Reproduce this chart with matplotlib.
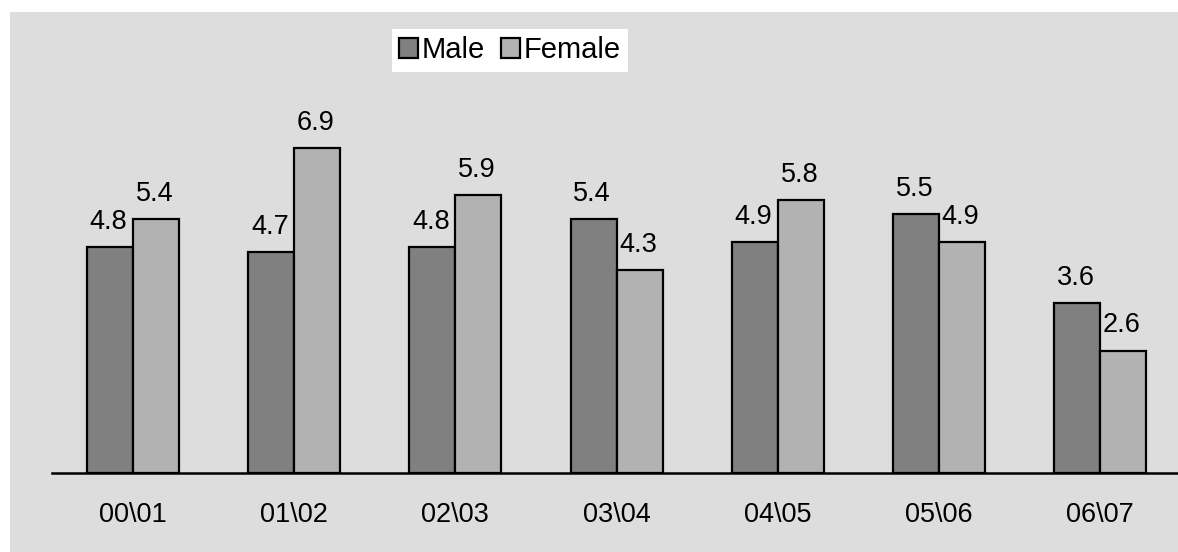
import numpy as np
import matplotlib
matplotlib.use("Agg")
import matplotlib.pyplot as plt
from matplotlib.patches import Rectangle

plt.rcParams['font.family'] = ['Liberation Sans', 'DejaVu Sans']

years = ["00\\01", "01\\02", "02\\03", "03\\04", "04\\05", "05\\06", "06\\07"]
male = [4.8, 4.7, 4.8, 5.4, 4.9, 5.5, 3.6]
female = [5.4, 6.9, 5.9, 4.3, 5.8, 4.9, 2.6]

W, H = 1178, 552
fig = plt.figure(figsize=(W / 100, H / 100), dpi=100)
fig.patch.set_facecolor("white")

# grey chart area
fig.patches.append(Rectangle((10 / W, 0), 1 - 10 / W, (H - 12) / H,
                             transform=fig.transFigure, facecolor="#dddddd",
                             edgecolor="none", zorder=-5))

base_y = 473
ax = fig.add_axes([52 / W, (H - base_y) / H, 1 - 52 / W, (base_y - 12) / H])
ax.set_facecolor("none")
ax.set_zorder(2)

x = np.arange(len(years))
w = 0.285
b1 = ax.bar(x - w / 2, male, w, color="#808080", edgecolor="black", linewidth=1.6, label="Male")
b2 = ax.bar(x + w / 2, female, w, color="#b2b2b2", edgecolor="black", linewidth=1.6, label="Female")

for bars, vals in ((b1, male), (b2, female)):
    for r, v in zip(bars, vals):
        ax.annotate(f"{v:.1f}", (r.get_x() + r.get_width() / 2, v),
                    xytext=(-1, 13), textcoords="offset points",
                    ha="center", va="baseline", fontsize=19.5)

ax.set_xlim(-0.5025, 6.483)
ax.set_ylim(0, (base_y - 12) / 47.1)
ax.set_xticks(x)
ax.set_xticklabels(years, fontsize=19.5)
ax.tick_params(axis="x", length=0, pad=21)
ax.set_yticks([])
for s in ("left", "right", "top"):
    ax.spines[s].set_visible(False)
ax.spines["bottom"].set_linewidth(1.8)

leg = fig.legend(handles=[b1, b2], loc="upper left",
                 bbox_to_anchor=(392 / W, 1 - 29 / H), ncol=2, fontsize=21,
                 frameon=True, fancybox=False, framealpha=1, borderpad=0.25,
                 handlelength=0.65, handleheight=0.65, handletextpad=0.12,
                 columnspacing=0.55, borderaxespad=0)
leg.get_frame().set_facecolor("white")
leg.get_frame().set_edgecolor("white")
leg.get_frame().set_linewidth(0)
leg.set_zorder(3)

fig.savefig("out.png", dpi=100)
